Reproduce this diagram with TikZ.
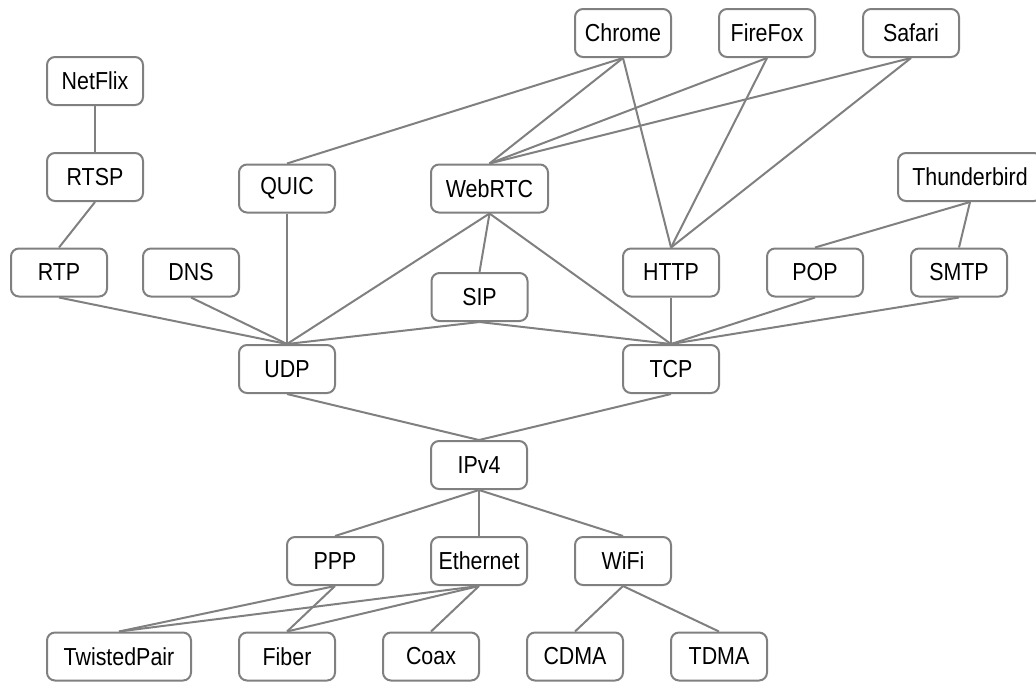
\documentclass[tikz,border=0pt]{standalone}
\usepackage{fontspec}
\setmainfont[FakeStretch=0.87]{Liberation Sans}
\definecolor{linkgray}{HTML}{808080}
\tikzset{
	proto/.style={draw=linkgray, line width=1pt, rounded corners=4pt, fill=white, minimum width=48pt, minimum height=24pt, inner xsep=1pt, inner ysep=0pt, font=\fontsize{12.3}{14}\selectfont},
	link/.style={draw=linkgray, line width=1pt}
}
\begin{document}
\begin{tikzpicture}[x=0.5pt, y=-0.5pt]
			\useasboundingbox (0,0) rectangle (1036,681);
			% applications
			\node (chrome) [proto] at (623,33) {Chrome};
			\node (firefox) [proto] at (767,33) {FireFox};
			\node (safari) [proto] at (911,33) {Safari};
			\node (netflix) [proto] at (95,81) {NetFlix};
			\node (rtsp) [proto] at (95,177) {RTSP};
			\node (thunderbird) [proto, minimum width=72pt] at (970,177) {Thunderbird};
			\node (quic) [proto] at (287,188.5) {QUIC};
			\node (webrtc) [proto, minimum width=58.5pt] at (489.5,188.5) {WebRTC};
			\node (rtp) [proto] at (59,272.5) {RTP};
			\node (dns) [proto] at (191,272.5) {DNS};
			\node (sip) [proto] at (479.5,297) {SIP};
			\node (http) [proto] at (671,272.5) {HTTP};
			\node (pop) [proto] at (815,272.5) {POP};
			\node (smtp) [proto] at (959,272.5) {SMTP};
			% transport, network, link
			\node (udp) [proto] at (287,369) {UDP};
			\node (tcp) [proto] at (671,369) {TCP};
			\node (ipv4) [proto] at (479,465) {IPv4};
			\node (ppp) [proto] at (335,561) {PPP};
			\node (ethernet) [proto] at (479,561) {Ethernet};
			\node (wifi) [proto] at (623,561) {WiFi};
			% physical
			\node (twistedpair) [proto, minimum width=72pt] at (119,656.5) {TwistedPair};
			\node (fiber) [proto] at (287,656.5) {Fiber};
			\node (coax) [proto] at (431,656.5) {Coax};
			\node (cdma) [proto] at (575,656.5) {CDMA};
			\node (tdma) [proto] at (719,656.5) {TDMA};
			% links
			\draw [link] (netflix.south) -- (rtsp.north);
			\draw [link] (rtsp.south) -- (rtp.north);
			\draw [link] (chrome.south) -- (quic.north);
			\draw [link] (chrome.south) -- (webrtc.north);
			\draw [link] (chrome.south) -- (http.north);
			\draw [link] (firefox.south) -- (webrtc.north);
			\draw [link] (firefox.south) -- (http.north);
			\draw [link] (safari.south) -- (webrtc.north);
			\draw [link] (safari.south) -- (http.north);
			\draw [link] (thunderbird.south) -- (pop.north);
			\draw [link] (thunderbird.south) -- (smtp.north);
			\draw [link] (webrtc.south) -- (sip.north);
			\draw [link] (webrtc.south) -- (udp.north);
			\draw [link] (webrtc.south) -- (tcp.north);
			\draw [link] (rtp.south) -- (udp.north);
			\draw [link] (dns.south) -- (udp.north);
			\draw [link] (quic.south) -- (udp.north);
			\draw [link] (sip.south) -- (udp.north);
			\draw [link] (sip.south) -- (tcp.north);
			\draw [link] (http.south) -- (tcp.north);
			\draw [link] (pop.south) -- (tcp.north);
			\draw [link] (smtp.south) -- (tcp.north);
			\draw [link] (udp.south) -- (ipv4.north);
			\draw [link] (tcp.south) -- (ipv4.north);
			\draw [link] (ipv4.south) -- (ppp.north);
			\draw [link] (ipv4.south) -- (ethernet.north);
			\draw [link] (ipv4.south) -- (wifi.north);
			\draw [link] (ppp.south) -- (twistedpair.north);
			\draw [link] (ppp.south) -- (fiber.north);
			\draw [link] (ethernet.south) -- (twistedpair.north);
			\draw [link] (ethernet.south) -- (fiber.north);
			\draw [link] (ethernet.south) -- (coax.north);
			\draw [link] (wifi.south) -- (cdma.north);
			\draw [link] (wifi.south) -- (tdma.north);
		\end{tikzpicture}
\end{document}
